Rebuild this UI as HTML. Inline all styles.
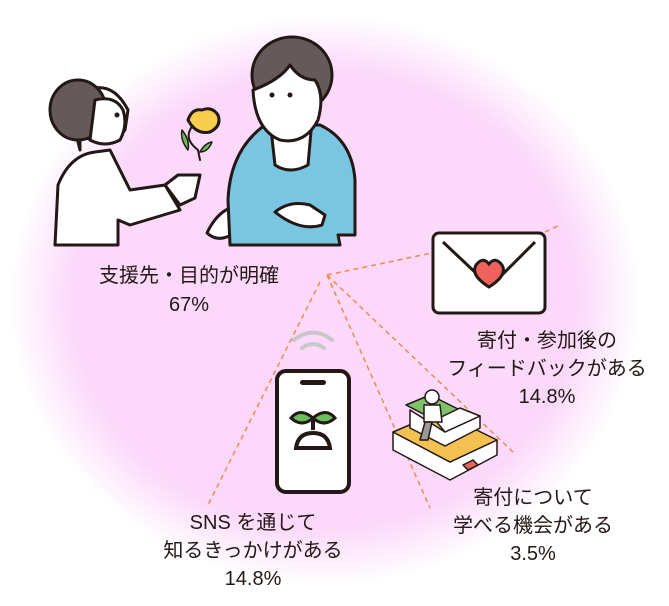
<!DOCTYPE html>
<html><head><meta charset="utf-8"><style>
body{margin:0;background:#fff}
svg{display:block}
text{font-family:"Liberation Sans","Noto Sans CJK JP",sans-serif;font-size:20px;fill:#231815;text-anchor:middle}
</style></head><body>
<svg width="669" height="606" viewBox="0 0 669 606" xmlns="http://www.w3.org/2000/svg">
<defs>
<radialGradient id="g" cx="0.5" cy="0.5" r="0.5">
<stop offset="0" stop-color="#fcd8fb"/>
<stop offset="0.8" stop-color="#fcd8fb"/>
<stop offset="1" stop-color="#fcd8fb" stop-opacity="0"/>
</radialGradient>
</defs>
<ellipse cx="325" cy="300" rx="315" ry="285" fill="url(#g)"/>
<g stroke="#ef8a4a" stroke-width="1.5" stroke-dasharray="5,4" fill="none">
<path d="M327 275 L432 253"/><path d="M545 232 L560 225"/>
<path d="M320 282 L208 505"/>
<path d="M327 275 L430 508"/>
<path d="M327 275 L513 452"/>
</g>
<!-- left person -->
<g stroke="#231815" stroke-width="3" stroke-linejoin="round" stroke-linecap="round">
<path d="M55 245 L58 185 Q70 155 95 152 L110 150 L130 190 L165 185 L180 210 L130 225 L118 220 L118 245 Z" fill="#fff"/>
<path d="M80 150 L80 135 Q110 150 125 130 L128 110 Q115 85 95 88 Q70 95 75 130Z" fill="#fff"/>
<ellipse cx="78" cy="110" rx="28" ry="30" fill="#645a5a"/>
<path d="M95 100 Q115 95 123 110 Q128 125 120 140 Q105 148 90 140 Z" fill="#fff"/>
<path d="M165 185 L178 175 L200 175 L195 198 L180 205 Z" fill="#fff"/>
<path d="M207 233 Q220 205 245 205 L238 230 Q220 245 207 233Z" fill="#fff"/>
<!-- man -->
<path d="M230 245 L228 200 Q230 150 265 125 L320 125 Q352 140 355 180 L355 235 L338 235 L340 245 Z" fill="#7ac5e0"/>
<path d="M270 120 L275 165 Q290 175 308 165 L312 120 Z" fill="#fff"/>
<ellipse cx="292" cy="75" rx="40" ry="38" fill="#645a5a"/>
<path d="M253 90 Q280 80 290 65 Q300 80 315 80 Q325 95 318 120 Q305 145 280 140 Q255 130 253 90Z" fill="#fff"/>
<path d="M275 212 Q290 200 310 205 L325 215 L322 225 Q300 232 275 212Z" fill="#fff"/>
<path d="M200 160 L198 150 Q185 140 190 130 L195 120" fill="none" stroke="#231815" stroke-width="2"/>
<path d="M188 120 Q192 108 202 110 Q212 106 218 115 Q222 126 210 132 Q196 135 188 120Z" fill="#f8cd4e"/>
<path d="M188 150 Q180 140 182 130 Q190 140 188 150Z M200 152 Q205 143 212 142 Q208 152 200 152Z" fill="#6bbf5a" stroke-width="1.5"/>
</g>
<g fill="#231815"><circle cx="117" cy="115" r="2.5"/><circle cx="272" cy="95" r="2.5"/><circle cx="290" cy="95" r="2.5"/></g>
<!-- envelope -->
<rect x="433" y="233" width="112" height="80" rx="6" fill="#fff" stroke="#231815" stroke-width="3"/>
<path d="M443 242 L478 275 M535 242 L502 275" stroke="#231815" stroke-width="3"/>
<path d="M489 287 Q470 275 476 265 Q483 256 489 264 Q495 256 502 265 Q508 275 489 287Z" fill="#f0625e" stroke="#231815" stroke-width="3"/>
<!-- wifi -->
<g fill="none" stroke="#c8c8c8" stroke-width="4" stroke-linecap="round">
<path d="M294 340 Q313 325 332 340"/><path d="M302 348 Q313 340 324 348"/>
</g>
<!-- phone -->
<rect x="277" y="371" width="72" height="121" rx="9" fill="#fff" stroke="#231815" stroke-width="4"/>
<rect x="300" y="380" width="26" height="5" rx="2.5" fill="#231815"/>
<g stroke="#231815" stroke-width="4" fill="none">
<path d="M313 430 L313 418"/><path d="M296 448 Q298 433 313 433 Q328 433 330 448 Z"/>
</g>
<path d="M291 418 Q300 407 313 418 Q302 428 291 418Z M313 418 Q326 407 335 418 Q324 428 313 418Z" fill="#6bbf5a" stroke="#231815" stroke-width="3"/>
<!-- books -->
<g stroke="#231815" stroke-width="1.5" stroke-linejoin="round">
<path d="M393 432 L450 462 L497 440 L497 455 L450 480 L393 450Z" fill="#fff"/>
<path d="M393 432 L440 412 L497 440 L450 462Z" fill="#f3c052"/>
<path d="M406 405 L430 395 L460 410 L435 420Z" fill="#7ec26a"/>
<path d="M410 410 L410 428 L445 446 L480 428 L480 416 L445 432Z" fill="#fff"/>
<path d="M435 420 L460 408 L480 416 L445 432Z" fill="#fff"/>
<path d="M463 465 L473 460 L478 465 L468 470Z" fill="#e8645c"/>
<circle cx="432" cy="397" r="7" fill="#fff"/>
<path d="M424 405 L440 405 L442 422 L424 422Z" fill="#fff"/>
<path d="M425 422 L420 440 L428 440 L432 422Z" fill="#999"/>
</g>
<!-- texts -->
<text x="189" y="282">支援先・目的が明確</text>
<text x="189" y="311">67%</text>
<text x="547" y="347">寄付・参加後の</text>
<text x="547" y="375">フィードバックがある</text>
<text x="547" y="403">14.8%</text>
<text x="533" y="504">寄付について</text>
<text x="533" y="532">学べる機会がある</text>
<text x="533" y="560">3.5%</text>
<text x="253" y="529">SNS を通じて</text>
<text x="253" y="557">知るきっかけがある</text>
<text x="253" y="585">14.8%</text>
</svg>
</body></html>
